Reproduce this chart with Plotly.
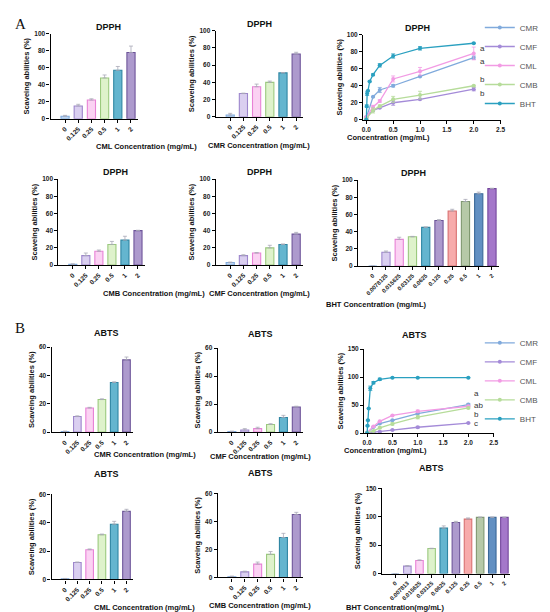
import plotly.graph_objects as go

# DPPH / ABTS scavenging of CM extracts vs BHT

W, H = 550, 612

conc = ['0', '0.125', '0.25', '0.5', '1', '2']
conc_num = [0, 0.125, 0.25, 0.5, 1, 2]
bht_dpph_lab = ['0', '0.0078125', '0.015625', '0.03125', '0.0625', '0.125', '0.25', '0.5', '1', '2']
bht_abts_lab = ['0', '0.007813', '0.015625', '0.03125', '0.0625', '0.125', '0.25', '0.5', '1', '2']
bht_num = [0, 0.0078125, 0.015625, 0.03125, 0.0625, 0.125, 0.25, 0.5, 1, 2]

# DPPH (%)
dpph_cml = [3, 15, 22, 48, 57, 78]
dpph_cml_err = [1, 2, 1.5, 3.5, 4.5, 7.5]
dpph_cmr = [2, 27, 35, 40, 51, 73]
dpph_cmr_err = [2, 0.5, 3, 1.5, 0.5, 2]
dpph_cmb = [1, 11, 16, 24, 29, 40]
dpph_cmb_err = [0.3, 3, 1.5, 3.5, 4.5, 0.5]
dpph_cmf = [3, 11, 14, 20, 24, 36]
dpph_cmf_err = [0.5, 1, 0.5, 3, 0.5, 2]
dpph_bht = [0, 16, 31, 34, 45, 53, 64, 75, 84, 90]
dpph_bht_err = [0, 1.5, 2.5, 0.5, 0.5, 1, 2, 2.5, 2, 0.5]

# ABTS (%)
abts_cmr = [0.5, 11, 17, 23, 35, 51]
abts_cmr_err = [0.2, 0.5, 0.5, 0.5, 0.5, 2]
abts_cmf = [0.5, 1.5, 2.5, 5.5, 10.5, 18]
abts_cmf_err = [0.2, 1, 1, 0.5, 1.5, 0.5]
abts_cml = [0.5, 12, 21, 31.5, 39, 48]
abts_cml_err = [0.2, 0.3, 0.5, 0.5, 2, 1.5]
abts_cmb = [0.5, 4, 9.5, 16.5, 28.5, 45]
abts_cmb_err = [0.5, 0.5, 1.5, 2, 3, 1.5]
abts_bht = [0, 13, 23, 44, 80, 90, 96, 99, 99, 99]
abts_bht_err = [0, 1, 1, 0.5, 4, 2, 2, 0.5, 0.5, 0.5]

# significance letters at 2 mg/mL (letter, pixel nudge so they don't collide)
dpph_letters = {'CML': ('a', 5), 'CMR': ('a', -4), 'CMB': ('b', 6), 'CMF': ('b', -4)}
abts_letters = {'CMR': ('a', 11), 'CML': ('ab', 1), 'CMB': ('b', -7), 'CMF': ('c', 0)}

bar_fill = ['#bcd4f0', '#dacff0', '#fbd2f3', '#def2cb', '#64b5cf', '#ad9acd']
bar_line = ['#80aadc', '#9d86cc', '#e882d6', '#9bc97e', '#2f86a3', '#6e559a']
bht_fill = ['#bcd4f0', '#dacff0', '#fbd2f3', '#def2cb', '#64b5cf', '#ad9acd',
            '#f7abab', '#b6c9a8', '#6290c2', '#a477ca']
bht_line = ['#80aadc', '#9d86cc', '#e882d6', '#9bc97e', '#2f86a3', '#6e559a',
            '#d87070', '#7f9870', '#3a6898', '#74469c']
series_col = {'CMR': '#80aadc', 'CMF': '#a48bd8', 'CML': '#f29be4',
              'CMB': '#b6dc9a', 'BHT': '#2aa0c0'}

FONT = 'Liberation Sans, Arial, sans-serif'

fig = go.Figure()
layout = {}
annots = []


def px_dom(x0, x1, ytop, ybot):
    return [x0 / W, x1 / W], [1 - ybot / H, 1 - ytop / H]


def axis_style(tsize=6.5, **kw):
    d = dict(showgrid=False, zeroline=False, showline=True, linecolor='black',
             linewidth=1.2, ticks='outside', ticklen=3, tickwidth=1.1,
             tickcolor='black',
             tickfont=dict(family=FONT, size=tsize, color='#222', weight='bold'))
    d.update(kw)
    return d


def add_title(text, dom_x, ytop):
    annots.append(dict(text=f'<b>{text}</b>', x=(dom_x[0] + dom_x[1]) / 2,
                       y=1 - (ytop - 14) / H, xref='paper', yref='paper',
                       showarrow=False, font=dict(family=FONT, size=9, color='#111')))


def add_xtitle(text, dom_x, y_px):
    annots.append(dict(text=f'<b>{text}</b>', x=(dom_x[0] + dom_x[1]) / 2,
                       y=1 - y_px / H, xref='paper', yref='paper', yanchor='middle',
                       showarrow=False, font=dict(family=FONT, size=7.5, color='#111')))


def ytitle():
    return dict(text='Scaveing abilities (%)', standoff=3,
                font=dict(family=FONT, size=7.5, color='#111', weight='bold'))


def bar_panel(i, labels, vals, errs, fills, lines, box, yrange, dtick, title, xtitle, xt_gap):
    dx, dy = px_dom(*box)
    n = len(labels)
    fig.add_trace(go.Bar(
        x=list(range(n)), y=vals, width=0.62,
        marker=dict(color=fills, line=dict(color=lines, width=1.1)),
        error_y=dict(type='data', array=errs, arrayminus=[0] * n, symmetric=False,
                     color='#a9a9b8', thickness=0.8, width=2),
        xaxis=f'x{i}', yaxis=f'y{i}', showlegend=False))
    layout[f'xaxis{i}'] = axis_style(
        tsize=6.5 if n < 8 else 5.8,
        domain=dx, anchor=f'y{i}', range=[-1.1, n - 0.5], tickmode='array',
        tickvals=list(range(n)), ticktext=labels, tickangle=-45)
    layout[f'yaxis{i}'] = axis_style(domain=dy, anchor=f'x{i}', range=yrange,
                                     dtick=dtick, title=ytitle())
    add_title(title, dx, box[2])
    add_xtitle(xtitle, dx, box[3] + xt_gap)


def line_panel(i, data, box, yrange, dtick, title, letters, legend_name, legend_y):
    dx, dy = px_dom(*box)
    for name, xs, ys, es in data:
        fig.add_trace(go.Scatter(
            x=xs, y=ys, name=name, mode='lines+markers',
            line=dict(color=series_col[name], width=1.3),
            marker=dict(color=series_col[name], size=4),
            error_y=dict(type='data', array=es, color=series_col[name],
                         thickness=0.8, width=2),
            xaxis=f'x{i}', yaxis=f'y{i}', legend=legend_name))
        if name in letters:
            txt, nudge = letters[name]
            annots.append(dict(text=txt, x=xs[-1], y=ys[-1],
                               xref=f'x{i}', yref=f'y{i}', showarrow=False,
                               xanchor='left', xshift=4, yshift=nudge,
                               font=dict(family=FONT, size=8, color='#333')))
    layout[f'xaxis{i}'] = axis_style(
        domain=dx, anchor=f'y{i}', range=[-0.06, 2.5], tickvals=[0, 0.5, 1, 1.5, 2, 2.5],
        tickformat='.1f')
    layout[f'yaxis{i}'] = axis_style(domain=dy, anchor=f'x{i}', range=yrange,
                                     dtick=dtick, title=ytitle())
    add_title(title, dx, box[2])
    add_xtitle('Concentration (mg/mL)', dx, box[3] + 18)
    layout[legend_name] = dict(x=476 / W, y=1 - legend_y / H, xanchor='left', yanchor='top',
                               bgcolor='rgba(0,0,0,0)', tracegroupgap=0,
                               font=dict(family=FONT, size=8, color='#555'))


# row 1 - DPPH
bar_panel(1, conc, dpph_cml, dpph_cml_err, bar_fill, bar_line, (42, 130, 22, 108),
          [0, 100], 20, 'DPPH', 'CML Concentration (mg/mL)', 28)
bar_panel(2, conc, dpph_cmr, dpph_cmr_err, bar_fill, bar_line, (209, 297, 19, 106),
          [0, 100], 20, 'DPPH', 'CMR Concentration (mg/mL)', 29)
line_panel(3, [('CMR', conc_num, dpph_cmr, dpph_cmr_err),
               ('CMF', conc_num, dpph_cmf, dpph_cmf_err),
               ('CML', conc_num, dpph_cml, dpph_cml_err),
               ('CMB', conc_num, dpph_cmb, dpph_cmb_err),
               ('BHT', bht_num, dpph_bht, dpph_bht_err)],
           (358, 497, 23, 109), [0, 100], 20, 'DPPH', dpph_letters, 'legend', 1)

# row 2 - DPPH
bar_panel(4, conc, dpph_cmb, dpph_cmb_err, bar_fill, bar_line, (50, 137, 169, 256),
          [0, 100], 20, 'DPPH', 'CMB Concentration (mg/mL)', 29)
bar_panel(5, conc, dpph_cmf, dpph_cmf_err, bar_fill, bar_line, (209, 297, 169, 256),
          [0, 100], 20, 'DPPH', 'CMF Concentration (mg/mL)', 29)
bar_panel(6, bht_dpph_lab, dpph_bht, dpph_bht_err, bht_fill, bht_line, (353, 495, 170, 257),
          [0, 100], 20, 'DPPH', 'BHT Concentration (mg/mL)', 39)

# row 3 - ABTS
bar_panel(7, conc, abts_cmr, abts_cmr_err, bar_fill, bar_line, (43, 125, 339, 425),
          [0, 60], 20, 'ABTS', 'CMR Concentration (mg/mL)', 23)
bar_panel(8, conc, abts_cmf, abts_cmf_err, bar_fill, bar_line, (211, 297, 340, 425),
          [0, 60], 20, 'ABTS', 'CMF Concentration (mg/mL)', 25)
line_panel(9, [('CMR', conc_num, abts_cmr, abts_cmr_err),
               ('CMF', conc_num, abts_cmf, abts_cmf_err),
               ('CML', conc_num, abts_cml, abts_cml_err),
               ('CMB', conc_num, abts_cmb, abts_cmb_err),
               ('BHT', bht_num, abts_bht, abts_bht_err)],
           (359, 490, 341, 426), [0, 150], 50, 'ABTS', abts_letters, 'legend2', 320)

# row 4 - ABTS
bar_panel(10, conc, abts_cml, abts_cml_err, bar_fill, bar_line, (43, 125, 488, 574),
          [0, 60], 20, 'ABTS', 'CML Concentration (mg/mL)', 28)
bar_panel(11, conc, abts_cmb, abts_cmb_err, bar_fill, bar_line, (211, 297, 487, 572),
          [0, 60], 20, 'ABTS', 'CMB Concentration (mg/mL)', 28)
bar_panel(12, bht_abts_lab, abts_bht, abts_bht_err, bht_fill, bht_line, (377, 507, 482, 568),
          [0, 150], 50, 'ABTS', 'BHT Concentration(mg/mL)', 34)

# panel letters
for letter, ypx in [('A', 2), ('B', 310)]:
    annots.append(dict(text=letter, x=4 / W, y=1 - ypx / H, xref='paper', yref='paper',
                       xanchor='left', yanchor='top', showarrow=False,
                       font=dict(family='Liberation Serif, Times New Roman, serif',
                                 size=15, color='#111')))

fig.update_layout(width=W, height=H, margin=dict(l=0, r=0, t=0, b=0),
                  paper_bgcolor='white', plot_bgcolor='white',
                  bargap=0.3, annotations=annots, showlegend=True, **layout)

fig.write_html('out.html')
